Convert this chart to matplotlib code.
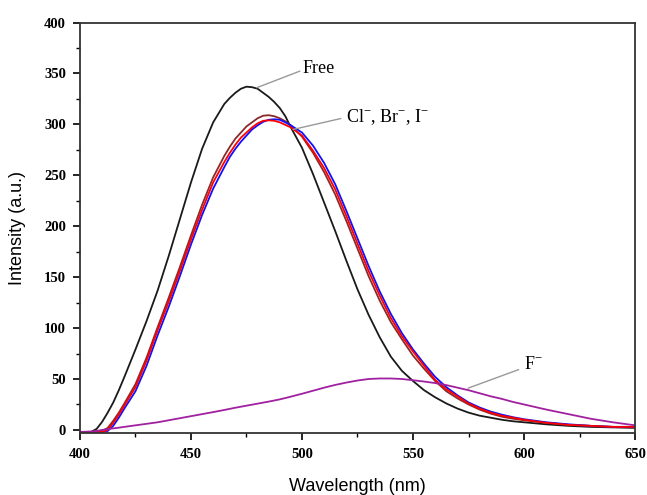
import matplotlib
matplotlib.use("Agg")
import matplotlib.pyplot as plt
from matplotlib.ticker import MultipleLocator

plt.rcParams['mathtext.fontset'] = 'custom'
plt.rcParams['mathtext.rm'] = 'Liberation Serif'

wavelength = [400, 405, 407.5, 410, 412.5, 415, 417.5, 420, 425, 430, 435, 440, 445, 450, 455, 460,
              465, 467.5, 470, 472.5, 475, 477.5, 480, 482.5, 485, 487.5, 490, 492.5, 495,
              500, 505, 510, 515, 520, 525, 530, 535, 540, 545,
              550, 555, 560, 565, 570, 575, 580, 585, 590, 595, 600, 610, 620, 630, 640, 650]

free = [-2, -2, 1, 8, 17, 27, 39, 52, 79, 107, 137, 171, 207, 243, 276, 302,
        320, 326, 331, 335, 337, 336.5, 335, 331, 327, 322, 316, 308, 297,
        277, 251, 223, 195, 166, 138, 113, 91, 72, 58,
        48, 39, 32, 26, 21, 17, 14, 12, 10, 8.5, 7.5, 5.5, 4, 3, 2.5, 2]

cl = [-2, -2, -2, -1, 2, 9, 17, 26, 45, 71, 101, 130, 160, 191, 221, 248,
      269, 278, 286, 292, 298, 302, 306, 308.5, 309, 308, 306, 303, 299,
      288, 272, 253, 231, 205, 178, 151, 127, 106, 89,
      73, 60, 48, 38, 31, 25, 20, 16, 13, 11, 9.5, 7, 5, 4, 3, 2.5]

br = [-2, -2, -2, -2, 0, 7, 15, 24, 42, 68, 98, 126, 156, 187, 216, 243,
      263, 272, 280, 287, 292, 297, 301, 303.5, 304, 303.5, 302, 299.5, 297,
      289, 274, 257, 236, 210, 183, 156, 132, 110, 92,
      77, 63, 49, 40, 33, 26, 21, 17, 14, 12, 10, 7, 5, 4, 3, 3]

iodide = [-2, -2, -2, -2, -1, 4, 12, 21, 38, 63, 93, 121, 151, 182, 211, 237,
          258, 268, 276, 283, 289, 295, 299, 302.5, 304.5, 305, 304.5, 302, 299,
          292, 279, 262, 241, 215, 188, 161, 136, 114, 95,
          79, 65, 52, 42, 34, 27, 22, 18, 15, 12.5, 10.5, 7.5, 5.5, 4, 3, 3]

fluoride = [-2, -1.5, -1, 0, 0.8, 1.5, 2.2, 3, 4.5, 6, 7.5, 9.5, 11.5, 13.5, 15.5, 17.5,
            19.6, 20.7, 21.8, 22.8, 23.8, 24.8, 25.8, 26.8, 27.8, 28.9, 30, 31.3, 32.7,
            35.5, 38.5, 41.5, 44.2, 46.5, 48.5, 50, 50.5, 50.5, 50,
            48.8, 47.5, 46, 44, 41.5, 39, 36, 33, 30.5, 27.5, 25, 20, 15.5, 11, 7.5, 4.5]

fig = plt.figure(figsize=(6.47, 4.95), dpi=100)
ax = fig.add_axes([0.1236, 0.1253, 0.8579, 0.8292])

lw = 1.3
ax.plot(wavelength, free, color='#1a1a1a', lw=lw)
ax.plot(wavelength, cl, color='#8b2a2a', lw=lw)
ax.plot(wavelength, iodide, color='#1010ff', lw=lw)
ax.plot(wavelength, br, color='#ff0000', lw=lw)
ax.plot(wavelength, fluoride, color='#a020a0', lw=lw)

ax.set_xlim(400, 650)
ax.set_ylim(-3, 400)
ax.xaxis.set_major_locator(MultipleLocator(50))
ax.xaxis.set_minor_locator(MultipleLocator(25))
ax.yaxis.set_major_locator(MultipleLocator(50))
ax.yaxis.set_minor_locator(MultipleLocator(25))
ax.tick_params(which='major', direction='out', length=5, width=1.2, top=False, right=False)
ax.tick_params(which='minor', direction='out', length=3, width=1.0, top=False, right=False)
ax.tick_params(axis='x', which='major', pad=6)
ax.tick_params(axis='y', which='major', pad=5)
for lab in ax.get_xticklabels() + ax.get_yticklabels():
    lab.set_family('Liberation Serif')
    lab.set_fontweight('bold')
    lab.set_fontsize(10.5)
for s in ax.spines.values():
    s.set_linewidth(1.3)
    s.set_color('#333333')

ax.set_xlabel('Wavelength (nm)', family='Liberation Sans', fontsize=13, labelpad=12)
ax.set_ylabel('Intensity (a.u.)', family='Liberation Sans', fontsize=13, labelpad=13)

gray = '#999999'
ax.annotate('Free', xy=(479.6, 336), xytext=(500.3, 355), family='Liberation Serif', fontsize=13,
            va='center', arrowprops=dict(arrowstyle='-', color=gray, lw=1.0, shrinkA=0, shrinkB=0,
                                         relpos=(0, 0.4)))
ax.annotate(r'Cl$^{-}$, Br$^{-}$, I$^{-}$', xy=(496, 295), xytext=(520, 307),
            family='Liberation Serif', fontsize=13, va='center',
            arrowprops=dict(arrowstyle='-', color=gray, lw=1.0, shrinkA=2, shrinkB=0, relpos=(0, 0.5)))
ax.annotate(r'F$^{-}$', xy=(574.8, 41), xytext=(600, 64.5), family='Liberation Serif', fontsize=13,
            va='center', arrowprops=dict(arrowstyle='-', color=gray, lw=1.0, shrinkA=2, shrinkB=0,
                                         relpos=(0, 0.3)))

fig.savefig('out.png', dpi=100)
